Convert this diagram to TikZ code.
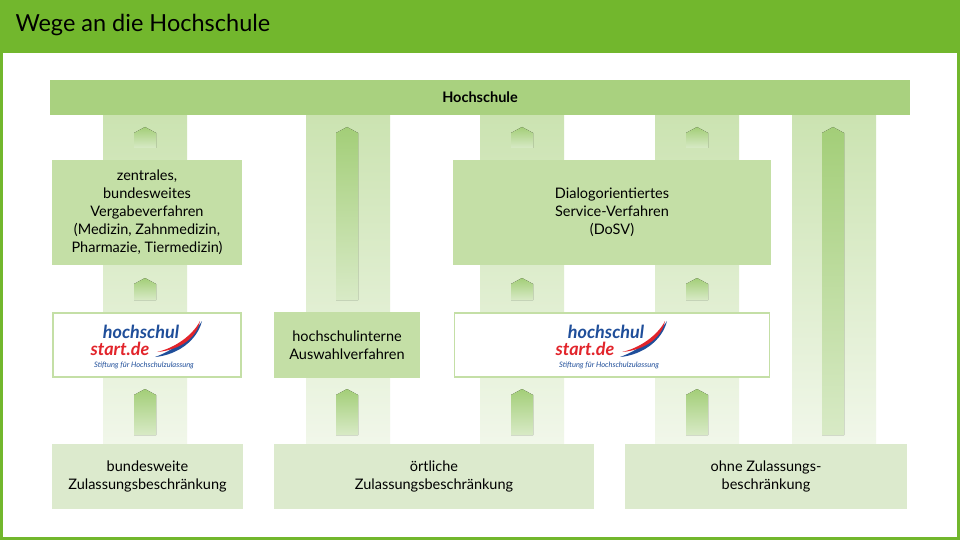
\documentclass[tikz,border=0pt]{standalone}
\usepackage{fontspec}
\setmainfont{Lato}
\begin{document}
\begin{tikzpicture}[x=1pt,y=-1pt,
  band/.style={top color=bandtop,bottom color=bandbot,draw=none},
  arrshade/.style={top color=arrtop,bottom color=arrbot,draw=none},
  txt/.style={align=center,font=\fontsize{14.5}{18}\selectfont,text=black},
  box/.style={fill=boxmid,draw=none,txt},
  botbox/.style={fill=boxlow,draw=none,txt},
  logobox/.style={fill=white,draw=boxmid,line width=1.5pt}]
\definecolor{hdr}{HTML}{72B72D}
\definecolor{bar}{HTML}{A9D17F}
\definecolor{boxmid}{HTML}{C4DFA6}
\definecolor{boxlow}{HTML}{DCEACD}
\definecolor{bandtop}{HTML}{CBE3B1}
\definecolor{bandbot}{HTML}{F1F7EA}
\definecolor{arrtop}{HTML}{A3CE78}
\definecolor{arrbot}{HTML}{D8EAC6}
\definecolor{hsblue}{HTML}{1F4E9A}
\definecolor{hsred}{HTML}{E2242B}
\useasboundingbox (0,0) rectangle (960,540);
\fill[hdr] (0,0) rectangle (960,540);
\fill[white] (3,53) rectangle (957,537);
\node[anchor=west,font=\fontsize{23.5}{27}\selectfont,text=black] (title) at (12,25) {Wege an die Hochschule};
% bands
\foreach \x in {103,306,480,655,792}{\fill[band] (\x,115) rectangle (\x+84,445);}
% arrows
\newcommand\arrw[3]{\fill[arrshade] (#1-11,#3) -- (#1-11,#2+6) -- (#1,#2) -- (#1+11,#2+6) -- (#1+11,#3) -- cycle;}
\foreach \x in {145,522,697}{\arrw{\x}{127}{148}\arrw{\x}{278}{300}\arrw{\x}{389}{435}}
\arrw{347}{127}{300}\arrw{347}{389}{435}
\arrw{833}{127}{435}
% bar
\fill[bar] (50,80) rectangle (910,115);
\node[txt,font=\bfseries\fontsize{14.5}{18}\selectfont] (hs) at (480,97.5) {Hochschule};
% boxes
\node[box,minimum width=190,minimum height=105] (zv) at (147,212.5) {zentrales,\\bundesweites\\Vergabeverfahren\\(Medizin, Zahnmedizin,\\Pharmazie, Tiermedizin)};
\node[box,minimum width=318,minimum height=105] (dosv) at (612,212.5) {Dialogorientiertes\\Service-Verfahren\\(DoSV)};
\node[box,minimum width=146,minimum height=66] (hi) at (347,345) {hochschulinterne\\Auswahlverfahren};
\node[logobox,minimum width=188,minimum height=64] (l1) at (147,345) {};
\node[logobox,minimum width=315,minimum height=64] (l2) at (612,345) {};
\foreach \c in {l1,l2}{
 \begin{scope}[shift={(\c.center)}]
  \fill[hsblue] (8,12) .. controls (25,6) and (45,-8) .. (55,-24) .. controls (50,-4) and (30,10) .. (8,12) -- cycle;
  \fill[hsred] (10,7) .. controls (28,3) and (46,-10) .. (53,-24) .. controls (50,-8) and (34,5) .. (10,7) -- cycle;
  \node[anchor=base,text=hsblue,font=\bfseries\itshape\fontsize{18}{18}\selectfont] at (-6,-7) {hochschul};
  \node[anchor=base,text=hsred,font=\bfseries\itshape\fontsize{18}{18}\selectfont] at (-27,10) {start.de};
  \node[anchor=base,text=hsblue,font=\itshape\fontsize{7.5}{7.5}\selectfont] at (-3,22) {Stiftung für Hochschulzulassung};
 \end{scope}}
\node[botbox,minimum width=191,minimum height=65] (b1) at (147.5,476.5) {bundesweite\\Zulassungsbeschränkung};
\node[botbox,minimum width=320,minimum height=65] (b2) at (434,476.5) {örtliche\\Zulassungsbeschränkung};
\node[botbox,minimum width=282,minimum height=65] (b3) at (766,476.5) {ohne Zulassungs-\\beschränkung};
\end{tikzpicture}
\end{document}
